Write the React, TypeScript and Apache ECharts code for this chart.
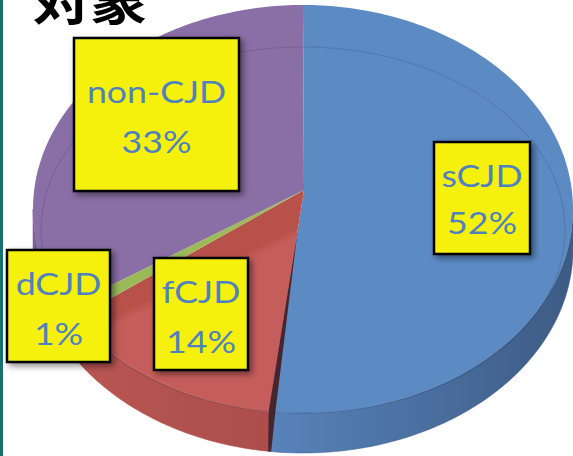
import React, { useEffect, useRef } from "react";
import * as echarts from "echarts";

// ---- data ----
const categories = ["sCJD", "fCJD", "dCJD", "non-CJD"];
const values = [52, 14, 1, 33];
const percentLabels = ["52%", "14%", "1%", "33%"];
const titleText = "対象";

// ---- styles ----
const topColors = ["#5C8BC4", "#C45B58", "#9BBB59", "#8A6EA6"];
const sideColors = [
  ["#5883BB", "#3D5B84"],
  ["#B85653", "#AC4E4B"],
  ["#8AA84E", "#7F9A47"],
  ["#7B6197", "#735A8E"],
];

// ---- layout ----
const CX = 303;
const CY = 209;
const RX = 270;
const RY = 204;
const DEPTH = 40;
const APEX: [number, number] = [304, 190];
// [x, y, w, h, line1 baseline offset, line2 baseline offset]
const labelBoxes = [
  [434, 142, 96, 112, 45, 92],
  [154, 258, 94, 112, 45, 95],
  [7, 250, 103, 112, 45, 95],
  [74, 38, 165, 153, 65, 115],
];

const total = values.reduce((a, b) => a + b, 0);
const START = -Math.PI / 2;

function rim(t: number, dy = 0): [number, number] {
  return [CX + RX * Math.cos(t), CY + RY * Math.sin(t) + dy];
}

function sliceAngles(index: number, v: number): [number, number] {
  let before = 0;
  for (let k = 0; k < index; k++) before += values[k];
  const a0 = START + (before / total) * Math.PI * 2;
  const a1 = a0 + (v / total) * Math.PI * 2;
  return [a0, a1];
}

function arcPoints(a0: number, a1: number, dy = 0): [number, number][] {
  const n = Math.max(2, Math.ceil(((a1 - a0) * 180) / Math.PI));
  const pts: [number, number][] = [];
  for (let k = 0; k <= n; k++) pts.push(rim(a0 + ((a1 - a0) * k) / n, dy));
  return pts;
}

function topFill(i: number) {
  if (i === 1) {
    // lighting: darker upper part of the red slice
    const mx = 203, my = 278, nx = 0.434, ny = 0.901;
    return new echarts.graphic.LinearGradient(
      mx - 4 * nx, my - 4 * ny, mx + 4 * nx, my + 4 * ny,
      [
        { offset: 0, color: "#B9514B" },
        { offset: 1, color: "#C55D5A" },
      ],
      true
    );
  }
  return topColors[i];
}

export default function App() {
  const ref = useRef<HTMLDivElement>(null);

  useEffect(() => {
    document.body.style.margin = "0";
    if (!ref.current) return;
    const chart = echarts.init(ref.current, undefined, { renderer: "svg" });

    const seriesData = values.map((v, i) => ({ name: categories[i], value: [v] }));

    const labelGraphics: any[] = [];
    labelBoxes.forEach((b, i) => {
      const [x, y, w, h, l1, l2] = b;
      labelGraphics.push({
        type: "rect",
        z: 10,
        shape: { x, y, width: w, height: h },
        style: {
          fill: "#F5F10E",
          stroke: "#000",
          lineWidth: 2.5,
          shadowBlur: 6,
          shadowOffsetX: 3,
          shadowOffsetY: 3,
          shadowColor: "rgba(0,0,0,0.45)",
        },
      });
      [categories[i], percentLabels[i]].forEach((t, j) => {
        labelGraphics.push({
          type: "text",
          z: 11,
          x: x + w / 2,
          y: y + (j === 0 ? l1 : l2) - 12,
          scaleX: 1.15,
          style: {
            text: t,
            fontFamily: "Lato",
            fontSize: 31,
            fill: "#4F81BD",
            align: "center",
            verticalAlign: "middle",
          },
        });
      });
    });

    const option: any = {
      animation: false,
      backgroundColor: "#fff",
      series: [
        {
          type: "custom",
          name: "side",
          coordinateSystem: "none",
          z: 1,
          silent: true,
          data: seriesData,
          renderItem: (params: any, api: any) => {
            const i = params.dataIndex;
            const [a0, a1] = sliceAngles(i, api.value(0));
            const s = Math.max(a0, 0);
            const e = Math.min(a1, Math.PI);
            if (e <= s) return { type: "group", children: [] };
            const top = arcPoints(s, e, 0);
            const bottom = arcPoints(s, e, DEPTH).reverse();
            return {
              type: "polygon",
              shape: { points: top.concat(bottom) },
              style: {
                fill: new echarts.graphic.LinearGradient(0, 0, 1, 0, [
                  { offset: 0, color: sideColors[i][0] },
                  { offset: 1, color: sideColors[i][1] },
                ]),
                stroke: sideColors[i][1],
                lineWidth: 0.5,
              },
            };
          },
        },
        {
          type: "custom",
          name: "top",
          coordinateSystem: "none",
          z: 2,
          silent: true,
          data: seriesData,
          renderItem: (params: any, api: any) => {
            const i = params.dataIndex;
            const [a0, a1] = sliceAngles(i, api.value(0));
            const pts: [number, number][] = [APEX, ...arcPoints(a0, a1, 0)];
            const children: any[] = [
              {
                type: "polygon",
                shape: { points: pts },
                style: { fill: topFill(i) },
              },
            ];
            if (i === 1) {
              // cut face of this slice, visible along its first edge
              const B = rim(a0);
              const t = 0.18;
              const P1: [number, number] = [APEX[0] + (B[0] - APEX[0]) * t, APEX[1] + (B[1] - APEX[1]) * t];
              children.push({
                type: "polygon",
                shape: {
                  points: [P1, [B[0] + 6, B[1] + 2], [B[0] + 2, B[1] + DEPTH], [B[0] - 1, B[1] + DEPTH], [B[0] - 0.5, B[1]]],
                },
                style: { fill: "#452630" },
              });
            }
            return { type: "group", children };
          },
        },
      ],
      graphic: [
        {
          type: "rect",
          z: 20,
          shape: { x: 0, y: 0, width: 3, height: 456 },
          style: { fill: "#1B6E75" },
        },
        {
          type: "ellipse",
          z: 5,
          silent: true,
          shape: { cx: 303, cy: 230, rx: 262, ry: 183 },
          style: { fill: "none", stroke: "rgba(40,50,90,0.22)", lineWidth: 1 },
        },
        {
          type: "text",
          z: 20,
          x: 90,
          y: -1,
          scaleX: 1.19,
          style: {
            text: titleText,
            fontFamily: "Noto Sans CJK JP",
            fontWeight: "bold",
            fontSize: 48,
            fill: "#000",
            align: "center",
            verticalAlign: "middle",
          },
        },
        ...labelGraphics,
      ],
    };

    chart.setOption(option);
    return () => chart.dispose();
  }, []);

  return <div ref={ref} style={{ width: 573, height: 456 }} />;
}
